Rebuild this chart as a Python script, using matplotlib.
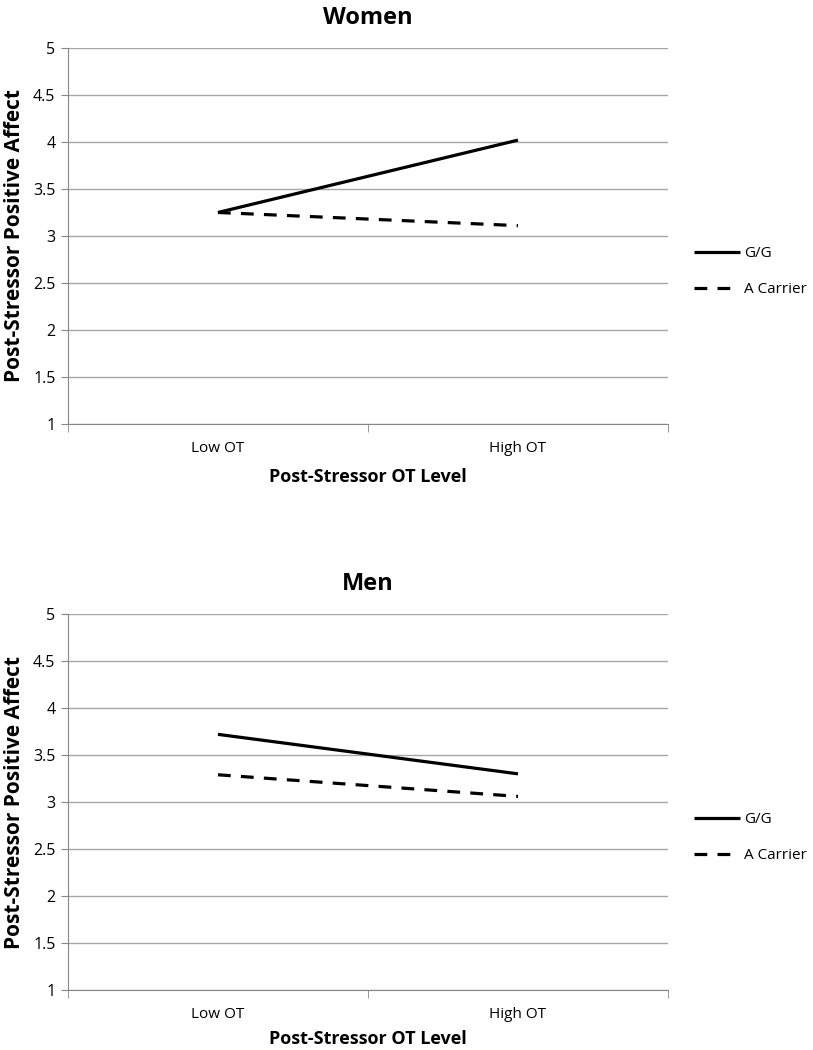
import matplotlib.pyplot as plt

plt.rcParams['font.family'] = ['Open Sans', 'DejaVu Sans']

categories = ['Low OT', 'High OT']
series_names = ['G/G', 'A Carrier']
women_gg = [3.25, 4.02]
women_a = [3.25, 3.11]
men_gg = [3.72, 3.30]
men_a = [3.29, 3.06]
y_ticks = [1, 1.5, 2, 2.5, 3, 3.5, 4, 4.5, 5]
y_labels = ['1', '1.5', '2', '2.5', '3', '3.5', '4', '4.5', '5']

fig = plt.figure(figsize=(8.13, 10.5), dpi=100)

panels = [
    ('Women', women_gg, women_a, [0.0836, 0.5962, 0.738, 0.3581], 9),
    ('Men', men_gg, men_a, [0.0836, 0.0571, 0.738, 0.3581], 6),
]

for title, gg, ac, rect, xpad in panels:
    ax = fig.add_axes(rect)
    x = list(range(len(categories)))
    ax.plot(x, gg, color='black', lw=2.3, solid_capstyle='butt', label=series_names[0])
    ax.plot(x, ac, color='black', lw=2.3, ls=(0, (4, 3.2)), dash_capstyle='butt',
            label=series_names[1])
    ax.set_xlim(-0.5, 1.5)
    ax.set_ylim(1, 5)
    ax.set_yticks(y_ticks)
    ax.set_yticklabels(y_labels, fontsize=11.5)
    ax.yaxis.grid(True, color='#a6a6a6', lw=1)
    ax.set_axisbelow(True)
    ax.set_xticks(x)
    ax.set_xticklabels(categories, fontsize=11)
    ax.set_xticks([-0.5, 0.5, 1.5], minor=True)
    ax.tick_params(axis='x', which='major', length=0, pad=12)
    ax.tick_params(axis='x', which='minor', length=6, color='#868686', direction='out')
    ax.tick_params(axis='y', length=5, color='#868686', pad=4)
    for s in ['top', 'right']:
        ax.spines[s].set_visible(False)
    ax.spines['left'].set_color('#868686')
    ax.spines['bottom'].set_color('#868686')
    ax.set_title(title, fontsize=17, fontweight='bold', pad=17)
    ax.set_xlabel('Post-Stressor OT Level', fontsize=13, fontweight='bold', labelpad=xpad)
    ax.set_ylabel('Post-Stressor Positive Affect', fontsize=15, fontweight='bold', labelpad=6)
    ax.legend(loc='center left', bbox_to_anchor=(1.02, 0.405), frameon=False, fontsize=11,
              handlelength=3.0, handletextpad=0.3, labelspacing=1.35)

fig.savefig('out.png', dpi=100)
